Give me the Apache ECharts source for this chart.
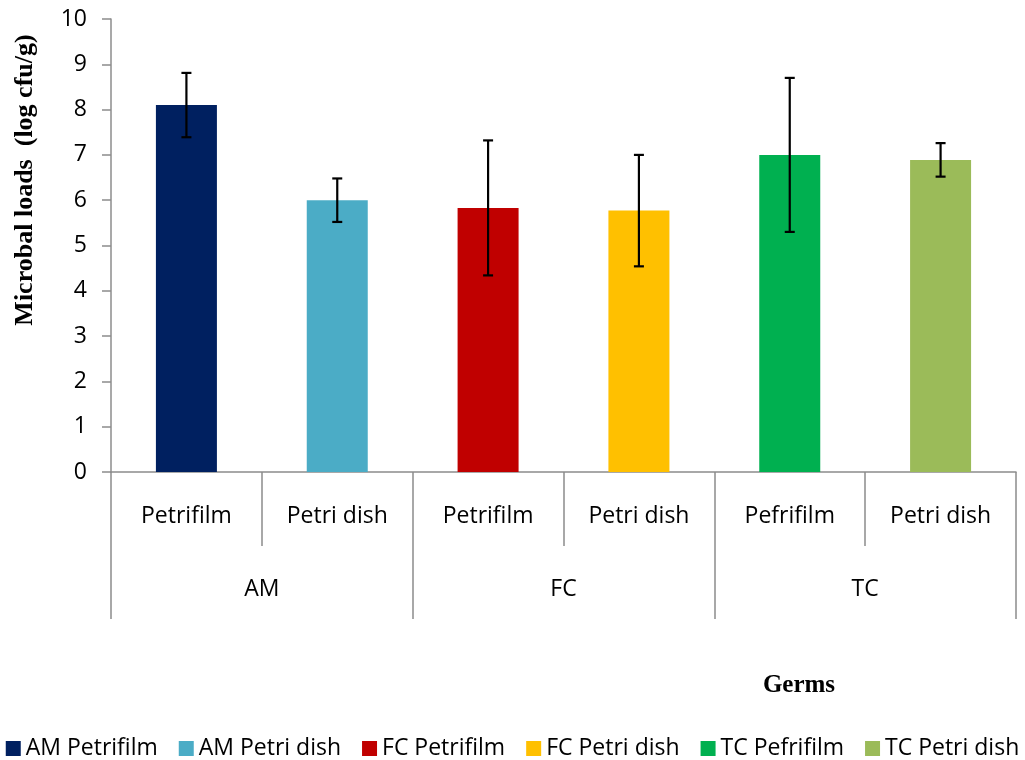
<!DOCTYPE html>
<html>
<head>
<meta charset="utf-8">
<script src="https://cdn.jsdelivr.net/npm/echarts@6/dist/echarts.min.js"></script>
<style>html,body{margin:0;padding:0;background:#fff}#c{width:1025px;height:760px}</style>
</head>
<body>
<div id="c"></div>
<script>
var methods = ['Petrifilm', 'Petri dish', 'Petrifilm', 'Petri dish', 'Pefrifilm', 'Petri dish'];
var germs = ['AM', 'FC', 'TC'];
var seriesNames = ['AM Petrifilm', 'AM Petri dish', 'FC Petrifilm', 'FC Petri dish', 'TC Pefrifilm', 'TC Petri dish'];
var values = [8.1, 6.0, 5.83, 5.77, 7.0, 6.89];
var errors = [0.71, 0.48, 1.49, 1.23, 1.7, 0.37];
var colors = ['#002060', '#4BACC6', '#C00000', '#FFC000', '#00B050', '#9BBB59'];
var yTicks = [0, 1, 2, 3, 4, 5, 6, 7, 8, 9, 10];

var font = '"Open Sans", Lato, sans-serif';
var axisGray = '#8c8c8c';

var chart = echarts.init(document.getElementById('c'));

var series = seriesNames.map(function (name, i) {
  var d = values.map(function (v, j) { return j === i ? v : '-'; });
  return {
    name: name, type: 'bar', stack: 'all', barWidth: 61,
    itemStyle: { color: colors[i] }, data: d, xAxisIndex: 0
  };
});

var errData = values.map(function (v, i) { return [i, v - errors[i], v + errors[i]]; });
series.push({
  type: 'custom', name: 'err', xAxisIndex: 0, z: 10,
  data: errData,
  renderItem: function (params, api) {
    var x = api.value(0);
    var lo = api.coord([x, api.value(1)]);
    var hi = api.coord([x, api.value(2)]);
    var hw = 5;
    var st = { stroke: '#000', lineWidth: 2.2 };
    return {
      type: 'group',
      children: [
        { type: 'line', shape: { x1: lo[0], y1: lo[1], x2: hi[0], y2: hi[1] }, style: st },
        { type: 'line', shape: { x1: lo[0] - hw, y1: lo[1], x2: lo[0] + hw, y2: lo[1] }, style: st },
        { type: 'line', shape: { x1: hi[0] - hw, y1: hi[1], x2: hi[0] + hw, y2: hi[1] }, style: st }
      ]
    };
  },
  encode: { x: 0, y: [1, 2] },
  silent: true
});

chart.setOption({
  animation: false,
  color: colors,
  grid: { left: 111, right: 9, top: 19, bottom: 288 },
  legend: {
    data: seriesNames,
    top: 732, left: 'center',
    itemWidth: 15, itemHeight: 15, itemGap: 21, icon: 'rect',
    textStyle: { fontFamily: font, fontSize: 23, color: '#000' }
  },
  xAxis: [
    {
      type: 'category', data: methods, position: 'bottom',
      axisLine: { lineStyle: { color: axisGray, width: 1.5 } },
      axisTick: { show: true, interval: 0, length: 74, lineStyle: { color: axisGray, width: 1.5 } },
      axisLabel: { interval: 0, margin: 33, fontFamily: font, fontSize: 23, color: '#000' }
    },
    {
      type: 'category', data: germs, position: 'bottom',
      axisLine: { show: false },
      axisTick: { show: true, interval: 0, length: 147, lineStyle: { color: axisGray, width: 1.5 } },
      axisLabel: { interval: 0, margin: 106, fontFamily: font, fontSize: 23, color: '#000' }
    }
  ],
  yAxis: {
    type: 'value', min: 0, max: 10, interval: 1,
    axisLine: { show: true, lineStyle: { color: axisGray, width: 1.5 } },
    axisTick: { show: true, length: 9, lineStyle: { color: axisGray, width: 1.5 } },
    splitLine: { show: false },
    axisLabel: {
      margin: 24, fontFamily: font, fontSize: 23, color: '#000',
      formatter: function (v) { return yTicks.indexOf(v) >= 0 ? String(v) : ''; }
    }
  },
  graphic: [
    {
      type: 'text', x: 25, y: 180, rotation: Math.PI / 2,
      style: {
        text: 'Microbal loads  (log cfu/g)', fill: '#000',
        font: 'bold 26px "Liberation Serif", "Times New Roman", serif',
        align: 'center', verticalAlign: 'middle'
      }
    },
    {
      type: 'text', x: 799, y: 686,
      style: {
        text: 'Germs', fill: '#000',
        font: 'bold 25px "Liberation Serif", "Times New Roman", serif',
        align: 'center', verticalAlign: 'middle'
      }
    }
  ],
  series: series
});
</script>
</body>
</html>
